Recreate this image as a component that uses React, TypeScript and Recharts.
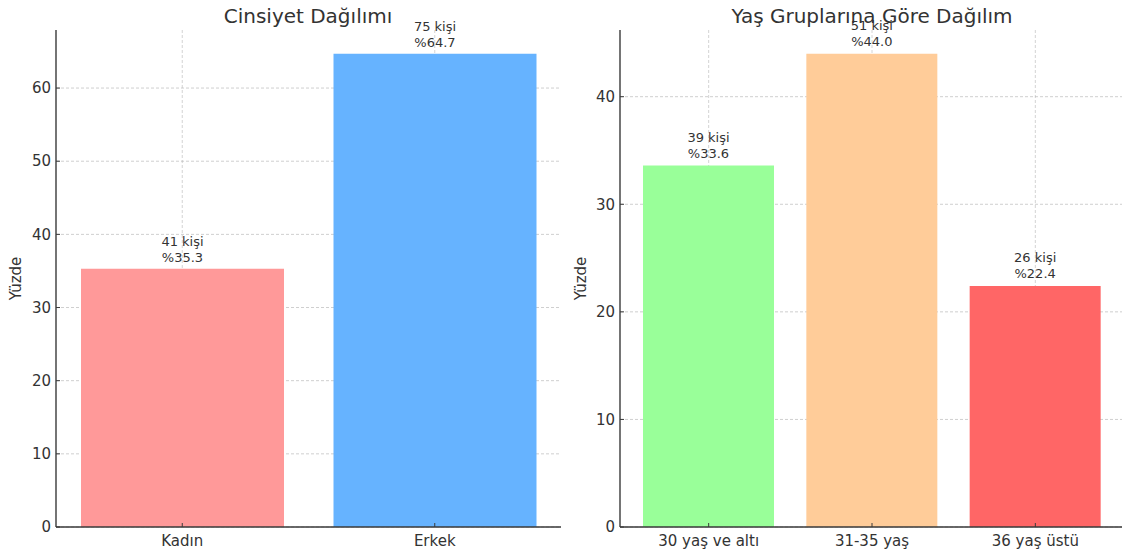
import React from 'react';
import { BarChart, Bar, XAxis, YAxis, CartesianGrid, LabelList, Cell } from 'recharts';

// Cinsiyet
const genderCategories = ['Kadın', 'Erkek'];
const genderPercents = [35.3, 64.7];
const genderCounts = [41, 75];
const genderColors = ['#ff9999', '#66b3ff'];
const genderTicks = [0, 10, 20, 30, 40, 50, 60];

// Yaş grupları
const ageCategories = ['30 yaş ve altı', '31-35 yaş', '36 yaş üstü'];
const agePercents = [33.6, 44.0, 22.4];
const ageCounts = [39, 51, 26];
const ageColors = ['#99ff99', '#ffcc99', '#ff6666'];
const ageTicks = [0, 10, 20, 30, 40];

const FONT = '"DejaVu Sans", Verdana, sans-serif';
const INK = '#333333';
const SPINE = '#3a3a3a';
const TICK_GAP = 5;
const XTICK_GAP = 8;
const LABEL_PAD = 0.5; // value units above the bar top

const genderData = genderCategories.map((name, i) => ({
  name,
  percent: genderPercents[i],
  count: genderCounts[i],
}));

const ageData = ageCategories.map((name, i) => ({
  name,
  percent: agePercents[i],
  count: ageCounts[i],
}));

// ticks point inwards, so they are drawn by hand next to the labels
const YTick = (props: any) => {
  const { x, y, payload } = props;
  const axisX = x + TICK_GAP;
  return (
    <g>
      <line x1={axisX} x2={axisX + 4} y1={y} y2={y} stroke={SPINE} strokeWidth={1} />
      <text x={x} y={y} dy="0.35em" textAnchor="end" fontSize={15} fill={INK} fontFamily={FONT}>
        {payload.value}
      </text>
    </g>
  );
};

const XTick = (props: any) => {
  const { x, y, payload } = props;
  const axisY = y - XTICK_GAP;
  return (
    <g>
      <line x1={x} x2={x} y1={axisY} y2={axisY - 4} stroke={SPINE} strokeWidth={1} />
      <text x={x} y={y} dy="0.71em" textAnchor="middle" fontSize={15} fill={INK} fontFamily={FONT}>
        {payload.value}
      </text>
    </g>
  );
};

const YTitle = (props: any) => {
  const { viewBox, shift } = props;
  const cx = viewBox.x + shift;
  const cy = viewBox.y + viewBox.height / 2;
  return (
    <text
      x={cx}
      y={cy}
      transform={`rotate(-90 ${cx} ${cy})`}
      textAnchor="middle"
      dominantBaseline="central"
      fontSize={15}
      fill={INK}
      fontFamily={FONT}
    >
      Yüzde
    </text>
  );
};

const makeValueLabel = (counts: number[]) => (props: any) => {
  const { x, y, width, height, value, index } = props;
  const cx = x + width / 2;
  const pxPerUnit = height / value;
  const base = y - LABEL_PAD * pxPerUnit - 2.6;
  return (
    <g fontSize={13} fill={INK} fontFamily={FONT} textAnchor="middle">
      <text x={cx} y={base - 16}>{`${counts[index]} kişi`}</text>
      <text x={cx} y={base}>{`%${Number(value).toFixed(1)}`}</text>
    </g>
  );
};

const App: React.FC = () => {
  const genderMax = Math.max(...genderPercents) * 1.05;
  const ageMax = Math.max(...agePercents) * 1.05;

  return (
    <div
      style={{
        position: 'absolute',
        left: 0,
        top: 0,
        width: 1122,
        height: 556,
        overflow: 'hidden',
        background: '#ffffff',
        fontFamily: FONT,
      }}
    >
      {/* Cinsiyet Dağılımı */}
      <div style={{ position: 'absolute', left: 0, top: 0 }}>
        <BarChart
          width={580}
          height={556}
          data={genderData}
          margin={{ top: 30, right: 19, left: 0, bottom: 0 }}
        >
          <CartesianGrid vertical={false} syncWithTicks stroke="#cfcfcf" strokeDasharray="3 2" />
          <XAxis
            dataKey="name"
            height={29}
            tickSize={0}
            tickMargin={XTICK_GAP}
            tickLine={false}
            tick={<XTick />}
            axisLine={{ stroke: SPINE, strokeWidth: 1.4 }}
          />
          <YAxis
            width={56}
            type="number"
            domain={[0, genderMax]}
            ticks={genderTicks}
            tickSize={0}
            tickMargin={TICK_GAP}
            tickLine={false}
            tick={<YTick />}
            axisLine={{ stroke: SPINE, strokeWidth: 1.4 }}
            label={<YTitle shift={16} />}
          />
          <Bar dataKey="percent" barSize={203} isAnimationActive={false}>
            {genderData.map((d, i) => (
              <Cell key={d.name} fill={genderColors[i]} />
            ))}
            <LabelList dataKey="percent" content={makeValueLabel(genderCounts)} />
          </Bar>
          <CartesianGrid horizontal={false} syncWithTicks stroke="#b8b8b8" strokeOpacity={0.6} strokeDasharray="3 2" />
        </BarChart>
      </div>

      {/* Yaş Gruplarına Göre Dağılım */}
      <div style={{ position: 'absolute', left: 560, top: 0 }}>
        <BarChart
          width={566}
          height={556}
          data={ageData}
          margin={{ top: 30, right: 2, left: 0, bottom: 0 }}
        >
          <CartesianGrid vertical={false} syncWithTicks stroke="#cfcfcf" strokeDasharray="3 2" />
          <XAxis
            dataKey="name"
            height={29}
            padding={{ left: 7, right: 7 }}
            tickSize={0}
            tickMargin={XTICK_GAP}
            tickLine={false}
            tick={<XTick />}
            axisLine={{ stroke: SPINE, strokeWidth: 1.4 }}
          />
          <YAxis
            width={60}
            type="number"
            domain={[0, ageMax]}
            ticks={ageTicks}
            tickSize={0}
            tickMargin={TICK_GAP}
            tickLine={false}
            tick={<YTick />}
            axisLine={{ stroke: SPINE, strokeWidth: 1.4 }}
            label={<YTitle shift={21} />}
          />
          <Bar dataKey="percent" barSize={131} isAnimationActive={false}>
            {ageData.map((d, i) => (
              <Cell key={d.name} fill={ageColors[i]} />
            ))}
            <LabelList dataKey="percent" content={makeValueLabel(ageCounts)} />
          </Bar>
          <CartesianGrid horizontal={false} syncWithTicks stroke="#b8b8b8" strokeOpacity={0.6} strokeDasharray="3 2" />
        </BarChart>
      </div>

      {/* başlıklar */}
      <svg
        width={1122}
        height={556}
        style={{ position: 'absolute', left: 0, top: 0, pointerEvents: 'none' }}
      >
        <g fontSize={20} fill={INK} fontFamily={FONT} textAnchor="middle">
          <text x={308} y={23}>Cinsiyet Dağılımı</text>
          <text x={872} y={23}>Yaş Gruplarına Göre Dağılım</text>
        </g>
      </svg>
    </div>
  );
};

export default App;
